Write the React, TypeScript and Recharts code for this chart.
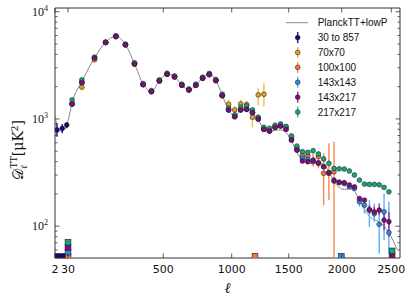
import React from "react";
import {
  ComposedChart,
  Line,
  Scatter,
  XAxis,
  YAxis,
  ErrorBar,
  ReferenceArea,
  Legend,
} from "recharts";

// plot frame inside the 411x303 canvas
const PLOT_LEFT = 55;
const PLOT_RIGHT = 400;
const PLOT_TOP = 8;
const PLOT_BOTTOM = 258;

const Y_MIN = 50.5;
const Y_MAX = 10830;

// axis: log in ell below 30, compressed (ell^0.7) above
const X_ANCHOR_ELL = [30, 500, 1000, 1500, 2000, 2500];
const X_ANCHOR_POS = [0.0377, 0.3139, 0.5122, 0.6774, 0.831, 0.9748];
const X_TICK_ELL = [2, 30, 500, 1000, 1500, 2000, 2500];
const Y_TICKS = [60, 70, 80, 90, 100, 200, 300, 400, 500, 600, 700, 800, 900, 1000, 2000, 3000, 4000, 5000, 6000, 7000, 8000, 9000, 10000];

// binned multipoles (high-ell)
const ELL_BINS = [42, 75, 125, 175, 225, 275, 325, 375, 425, 475, 525, 575, 625, 675, 725, 775, 825, 875, 925, 975, 1025, 1075, 1125, 1175, 1225, 1275, 1325, 1375, 1425, 1475, 1525, 1575, 1625, 1675, 1725, 1775, 1825, 1875, 1925, 1975, 2025, 2075, 2125, 2175, 2225, 2275, 2325, 2375, 2425, 2475];

const D_143X217 = [1381, 2186, 3689, 5168, 5880, 4915, 3266, 2094, 1801, 2265, 2615, 2469, 2064, 1867, 2064, 2399, 2596, 2282, 1652, 1214, 1052, 1214, 1231, 1146, 1000, 801, 772, 836, 860, 801, 636, 513, 405, 399, 408, 385, 359, 315, 269, 258, 254, 242, 233, 181, 175, 143, 136, 141, 114, 110];
const D_217X217 = [1505, 2315, 3769, 5205, 5965, 4986, 3337, 2139, 1840, 2315, 2672, 2523, 2109, 1907, 2109, 2451, 2653, 2331, 1700, 1258, 1090, 1286, 1323, 1214, 1037, 836, 818, 873, 898, 848, 694, 559, 495, 488, 506, 471, 423, 385, 346, 343, 341, 327, 300, 269, 247, 245, 245, 243, 230, 209];
const D_143X143 = [1381, 2186, 3689, 5168, 5880, 4915, 3266, 2094, 1801, 2265, 2615, 2469, 2064, 1867, 2064, 2399, 2596, 2282, 1652, 1214, 1052, 1214, 1231, 1146, 1000, 801, 772, 836, 860, 801, 636, 513, 429, 420, 414, 391, 359, 311, 263, 254, 250, 233, 225, 169, 157, 141, 131, 104, 136, 87];
const D_100X100 = [1381, 2186, 3689, 5168, 5880, 4915, 3266, 2094, 1801, 2265, 2615, 2469, 2064, 1867, 2064, 2399, 2596, 2282, 1652, 1214, 1052, 1214, 1231, 1146, 1000, 801, 772, 836, 860, 848, 674, 524, 454, 454, 399, 445, 311, 315, 322];
const D_70X70 = [1381, 1977, 3559, 5168, 5880, 4915, 3266, 2094, 1801, 2265, 2615, 2469, 2064, 1867, 2064, 2399, 2596, 2282, 1652, 1371, 1214, 1381, 1361, 1037, 1676, 1700];

// visible error bars: multipole, lower end, upper end
const ERR70_ELL = [975, 1025, 1075, 1125, 1175, 1225, 1275];
const ERR70_LO = [1258, 1130, 1258, 1214, 836, 1352, 1304];
const ERR70_HI = [1505, 1304, 1505, 1484, 1214, 1935, 2154];
const ERR100_ELL = [1725, 1775, 1825, 1875, 1925];
const ERR100_LO = [359, 346, 157, 175, 50];
const ERR100_HI = [478, 495, 478, 592, 614];
const ERR143_ELL = [2175, 2225, 2275, 2325, 2375, 2425, 2475];
const ERR143_LO = [152, 131, 98.6, 110, 55.5, 74, 55.5];
const ERR143_HI = [188, 181, 175, 163, 152, 202, 169];
const ERR143X217_ELL = [2275, 2325, 2375, 2425, 2475];
const ERR143X217_LO = [131, 122, 127, 91.7, 79.5];
const ERR143X217_HI = [157, 152, 163, 131, 136];

// low-ell (30 to 857 GHz) points
const LOWL_ELL = [3, 9, 23];
const LOWL_D = [789, 818, 879];
const LOWL_LO = [684, 735, 818];
const LOWL_HI = [911, 898, 924];
const LOWL_RANGE = [2, 28];
const LOWL_RANGE_D = [50.5, 55.6];

// best-fit model
const CURVE_ELL = [2, 3, 4, 6, 10, 15, 20, 25, 30, 42, 75, 125, 175, 225, 275, 325, 375, 425, 475, 525, 575, 625, 675, 725, 775, 825, 875, 925, 975, 1025, 1075, 1125, 1175, 1225, 1275, 1325, 1375, 1425, 1475, 1525, 1575, 1625, 1675, 1725, 1775, 1825, 1875, 1925, 1975, 2025, 2075, 2125, 2175, 2225, 2275, 2325, 2375, 2425, 2475, 2560];
const CURVE_D = [1090, 870, 800, 770, 775, 800, 840, 900, 960, 1420, 2230, 3720, 5190, 5920, 4940, 3290, 2110, 1800, 2280, 2630, 2480, 2070, 1870, 2075, 2410, 2610, 2290, 1660, 1220, 1045, 1215, 1235, 1140, 990, 800, 765, 785, 790, 745, 627, 485, 414, 385, 385, 391, 377, 327, 260, 230, 220, 223, 212, 175, 143, 124, 115, 110, 100, 87, 60.5];

// multipole range markers along the bottom
const RANGE_MARK_ELL = [30, 30, 30, 30, 1197, 1996, 2508, 2508];
const RANGE_MARK_D = [52.4, 57.2, 63.2, 70.8, 52.4, 52.4, 52.4, 58.8];
const RANGE_MARK_SERIES = ["100x100", "143x143", "143x217", "217x217", "100x100", "143x143", "143x217", "217x217"];

const COLORS: Record<string, string> = {
  "30 to 857": "#0c0c72",
  "70x70": "#e0a024",
  "100x100": "#f4743a",
  "143x143": "#2a8ce6",
  "143x217": "#820a82",
  "217x217": "#14a47e",
};
const ERR_COLORS: Record<string, string> = {
  "30 to 857": "#1a1aa0",
  "70x70": "#f0bc44",
  "100x100": "#fa8a4c",
  "143x143": "#5ab0f8",
  "143x217": "#9a2a9a",
  "217x217": "#30c090",
};
const SERIES_ORDER = ["30 to 857", "70x70", "100x100", "143x143", "143x217", "217x217"];

function ellToX(l: number) {
  if (l <= 30) return (X_ANCHOR_POS[0] * Math.log(l / 2)) / Math.log(15);
  const t = (v: number) => Math.pow(v, 0.7);
  let i = 0;
  while (i < X_ANCHOR_ELL.length - 2 && l > X_ANCHOR_ELL[i + 1]) i++;
  const t0 = t(X_ANCHOR_ELL[i]);
  const t1 = t(X_ANCHOR_ELL[i + 1]);
  return X_ANCHOR_POS[i] + ((t(l) - t0) / (t1 - t0)) * (X_ANCHOR_POS[i + 1] - X_ANCHOR_POS[i]);
}

function points(ells: number[], vals: number[], errEll: number[] = [], errLo: number[] = [], errHi: number[] = []) {
  return vals.map((v, i) => {
    const k = errEll.indexOf(ells[i]);
    return { x: ellToX(ells[i]), y: v, err: k >= 0 ? [v - errLo[k], errHi[k] - v] : [0, 0] };
  });
}

const curveData = CURVE_ELL.map((l, i) => ({ x: ellToX(l), y: CURVE_D[i] }));
const lowlData = points(LOWL_ELL, LOWL_D, LOWL_ELL, LOWL_LO, LOWL_HI);
const d70 = points(ELL_BINS, D_70X70, ERR70_ELL, ERR70_LO, ERR70_HI);
const d100 = points(ELL_BINS, D_100X100, ERR100_ELL, ERR100_LO, ERR100_HI);
const d143 = points(ELL_BINS, D_143X143, ERR143_ELL, ERR143_LO, ERR143_HI);
const d143x217 = points(ELL_BINS, D_143X217, ERR143X217_ELL, ERR143X217_LO, ERR143X217_HI);
const d217 = points(ELL_BINS, D_217X217);
const rangeMarks = RANGE_MARK_ELL.map((l, i) => ({ x: ellToX(l), y: RANGE_MARK_D[i], s: RANGE_MARK_SERIES[i] }));

const EDGE = "#1c1c1c";
const DOT_R = 2.4;

const dot = (color: string) => (p: any) =>
  p.cx == null ? <g /> : <circle cx={p.cx} cy={p.cy} r={DOT_R} fill={color} stroke={EDGE} strokeWidth={0.55} />;

const square = (p: any) =>
  p.cx == null ? <g /> : (
    <rect x={p.cx - 2.9} y={p.cy - 2.9} width={5.8} height={5.8} fill={COLORS[p.payload.s]} stroke={EDGE} strokeWidth={0.6} />
  );

function YTick(props: any) {
  const { y, payload } = props;
  const v = payload.value as number;
  const e = Math.round(Math.log10(v));
  const major = Math.abs(Math.log10(v) - e) < 1e-6;
  const len = major ? 4.5 : 2.5;
  return (
    <g>
      <line x1={PLOT_LEFT} x2={PLOT_LEFT + len} y1={y} y2={y} stroke="#333" strokeWidth={0.8} />
      <line x1={PLOT_RIGHT - len} x2={PLOT_RIGHT} y1={y} y2={y} stroke="#333" strokeWidth={0.8} />
      {major && (
        <text x={PLOT_LEFT - 7} y={y + 4} textAnchor="end" fontFamily="Liberation Serif" fontSize={12} fill="#111">
          10<tspan dy={-5} fontSize={8}>{e}</tspan>
        </text>
      )}
    </g>
  );
}

function XTick(props: any) {
  const { x, index } = props;
  return (
    <g>
      <line x1={x} x2={x} y1={PLOT_BOTTOM} y2={PLOT_BOTTOM - 4.5} stroke="#333" strokeWidth={0.8} />
      <line x1={x} x2={x} y1={PLOT_TOP} y2={PLOT_TOP + 4.5} stroke="#333" strokeWidth={0.8} />
      <text x={x} y={273.3} textAnchor="middle" fontFamily="DejaVu Sans" fontSize={11} fill="#111">
        {X_TICK_ELL[index]}
      </text>
    </g>
  );
}

function XLabel() {
  return (
    <text x={(PLOT_LEFT + PLOT_RIGHT) / 2} y={293} textAnchor="middle" fontFamily="DejaVu Serif" fontStyle="italic" fontSize={15} fill="#111">
      ℓ
    </text>
  );
}

function YLabel() {
  return (
    <text transform="translate(23,150) rotate(-90)" textAnchor="middle" fontFamily="DejaVu Serif" fontSize={14} fill="#111">
      𝒟<tspan dy={4} fontSize={9} fontStyle="italic">ℓ</tspan>
      <tspan dy={-10} dx={-3} fontSize={9}>TT</tspan>
      <tspan dy={6}>[μK</tspan>
      <tspan dy={-5} fontSize={9}>2</tspan>
      <tspan dy={5}>]</tspan>
    </text>
  );
}

function LegendBox() {
  const rowY = (k: number) => 12.7 + 14.9 * k;
  return (
    <svg width={130} height={112} style={{ overflow: "visible" }}>
      <line x1={6} x2={28} y1={rowY(0)} y2={rowY(0)} stroke="#888" strokeWidth={1} />
      <text x={37.7} y={rowY(0) + 3.6} fontFamily="Liberation Sans" fontSize={10} fill="#111">
        PlanckTT+lowP
      </text>
      {SERIES_ORDER.map((name, k) => (
        <g key={name}>
          <line x1={17.7} x2={17.7} y1={rowY(k + 1) - 5.5} y2={rowY(k + 1) + 5.5} stroke={ERR_COLORS[name]} strokeWidth={1.4} />
          <circle cx={17.7} cy={rowY(k + 1)} r={DOT_R} fill={COLORS[name]} stroke={EDGE} strokeWidth={0.55} />
          <text x={37.7} y={rowY(k + 1) + 3.6} fontFamily="Liberation Sans" fontSize={10} fill="#111">
            {name}
          </text>
        </g>
      ))}
    </svg>
  );
}

function series(name: string, data: any[]) {
  return (
    <Scatter key={name} name={name} data={data} dataKey="y" shape={dot(COLORS[name])} isAnimationActive={false}>
      <ErrorBar dataKey="err" direction="y" width={0} stroke={ERR_COLORS[name]} strokeWidth={1.4} />
    </Scatter>
  );
}

export default function App() {
  return (
    <div style={{ position: "absolute", left: 0, top: 0, background: "#fff" }}>
      <ComposedChart width={411} height={303} margin={{ top: PLOT_TOP, right: 411 - PLOT_RIGHT, bottom: 0, left: 0 }}>
        <XAxis
          type="number"
          dataKey="x"
          domain={[0, 1]}
          allowDataOverflow
          ticks={X_TICK_ELL.map(ellToX)}
          interval={0}
          tick={<XTick />}
          tickLine={false}
          axisLine={false}
          height={303 - PLOT_BOTTOM}
          label={<XLabel />}
        />
        <YAxis
          type="number"
          dataKey="y"
          scale="log"
          domain={[Y_MIN, Y_MAX]}
          allowDataOverflow
          ticks={Y_TICKS}
          interval={0}
          tick={<YTick />}
          tickLine={false}
          axisLine={false}
          width={PLOT_LEFT}
          label={<YLabel />}
        />
        <Line data={curveData} dataKey="y" type="monotone" stroke="#8a8a8a" strokeWidth={1} dot={false} isAnimationActive={false} />
        <ReferenceArea
          x1={ellToX(LOWL_RANGE[0])}
          x2={ellToX(LOWL_RANGE[1])}
          y1={LOWL_RANGE_D[0]}
          y2={LOWL_RANGE_D[1]}
          fill={COLORS["30 to 857"]}
          fillOpacity={1}
          stroke={EDGE}
          strokeWidth={0.6}
        />
        <Scatter data={rangeMarks} dataKey="y" shape={square} isAnimationActive={false} />
        {series("30 to 857", lowlData)}
        {series("100x100", d100)}
        {series("143x143", d143)}
        {series("70x70", d70)}
        {series("217x217", d217)}
        {series("143x217", d143x217)}
        <ReferenceArea x1={0} x2={1} y1={Y_MIN} y2={Y_MAX} fill="none" stroke="#333" strokeWidth={1} ifOverflow="visible" />
        <Legend
          content={<LegendBox />}
          layout="horizontal"
          verticalAlign="middle"
          align="center"
          wrapperStyle={{ left: 280, top: 10, width: 130, height: 112 }}
        />
      </ComposedChart>
    </div>
  );
}
